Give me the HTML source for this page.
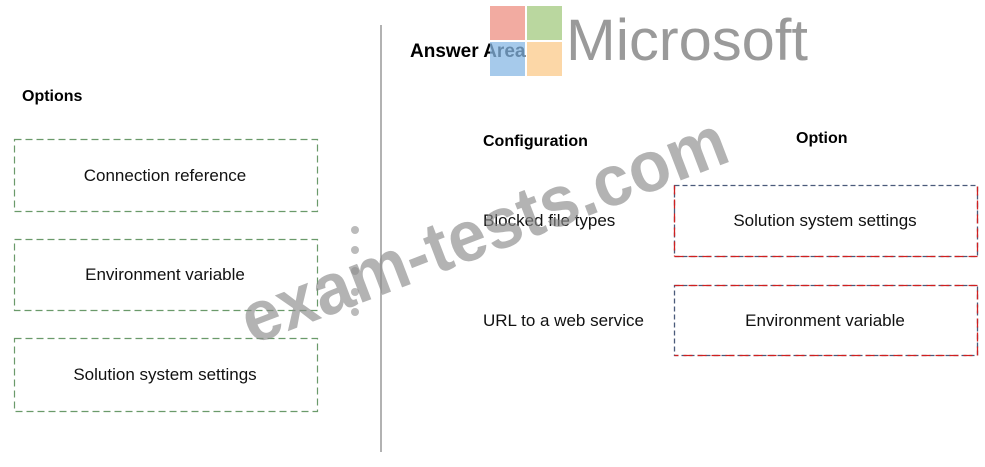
<!DOCTYPE html>
<html><head><meta charset="utf-8"><style>
html,body{margin:0;padding:0;background:#fff;}
body{width:985px;height:467px;overflow:hidden;position:relative;font-family:"Liberation Sans",sans-serif;}
</style></head><body>
<svg width="985" height="467" xmlns="http://www.w3.org/2000/svg" style="position:absolute;left:0;top:0">
<line x1="381" y1="25" x2="381" y2="452" stroke="#999" stroke-width="1.5"/>
<g fill="none" stroke="#6a9a6a" stroke-width="1.2" stroke-dasharray="7,4">
<rect x="14.5" y="139.5" width="303" height="72"/>
<rect x="14.5" y="239.5" width="303" height="71"/>
<rect x="14.5" y="338.5" width="303" height="73"/>
</g>
<g fill="none" stroke-width="1.3">
<rect x="674.5" y="185.5" width="303" height="71" stroke="#4a5a7a" stroke-dasharray="5,3"/>
<path d="M674.5 256.5 H977.5 V185.5 M674.5 185.5 V256.5" stroke="#d02020" stroke-dasharray="9,5"/>
<rect x="674.5" y="285.5" width="303" height="70" stroke="#4a5a7a" stroke-dasharray="5,3"/>
<path d="M674.5 285.5 H977.5 V355.5 H674.5" stroke="#d02020" stroke-dasharray="9,5"/>
</g>
<g font-family="Liberation Sans, sans-serif" font-size="17" fill="#111" text-anchor="middle">
<text x="165" y="181">Connection reference</text>
<text x="165" y="280">Environment variable</text>
<text x="165" y="380">Solution system settings</text>
<text x="825" y="226">Solution system settings</text>
<text x="825" y="326">Environment variable</text>
</g>
<g font-family="Liberation Sans, sans-serif" font-size="17" fill="#111">
<text x="483" y="226">Blocked file types</text>
<text x="483" y="326">URL to a web service</text>
</g>
<g font-family="Liberation Sans, sans-serif" font-weight="bold" fill="#000">
<text x="22" y="101" font-size="16">Options</text>
<text x="483" y="146" font-size="16">Configuration</text>
<text x="796" y="143" font-size="16">Option</text>
<text x="410" y="57" font-size="19">Answer Area</text>
</g>
<rect x="490" y="6" width="35" height="34" fill="#f09c90" opacity="0.85"/>
<rect x="527" y="6" width="35" height="34" fill="#aed08e" opacity="0.85"/>
<rect x="490" y="42" width="35" height="34" fill="#88b8e4" opacity="0.75"/>
<rect x="527" y="42" width="35" height="34" fill="#fbc98a" opacity="0.75"/>
<text x="566" y="60" font-family="Liberation Sans, sans-serif" font-size="58" fill="#9a9a9a" textLength="242" lengthAdjust="spacingAndGlyphs">Microsoft</text>
<g fill="#bbb">
<circle cx="355" cy="230" r="4"/><circle cx="355" cy="250" r="4"/><circle cx="355" cy="271" r="4"/><circle cx="355" cy="292" r="4"/><circle cx="355" cy="312" r="4"/>
</g>
<text x="0" y="0" transform="translate(252,345) rotate(-21)" font-family="Liberation Sans, sans-serif" font-weight="bold" font-size="72" fill="#8c8c8c" opacity="0.65" textLength="515" lengthAdjust="spacingAndGlyphs">exam-tests.com</text>
</svg>
</body></html>
